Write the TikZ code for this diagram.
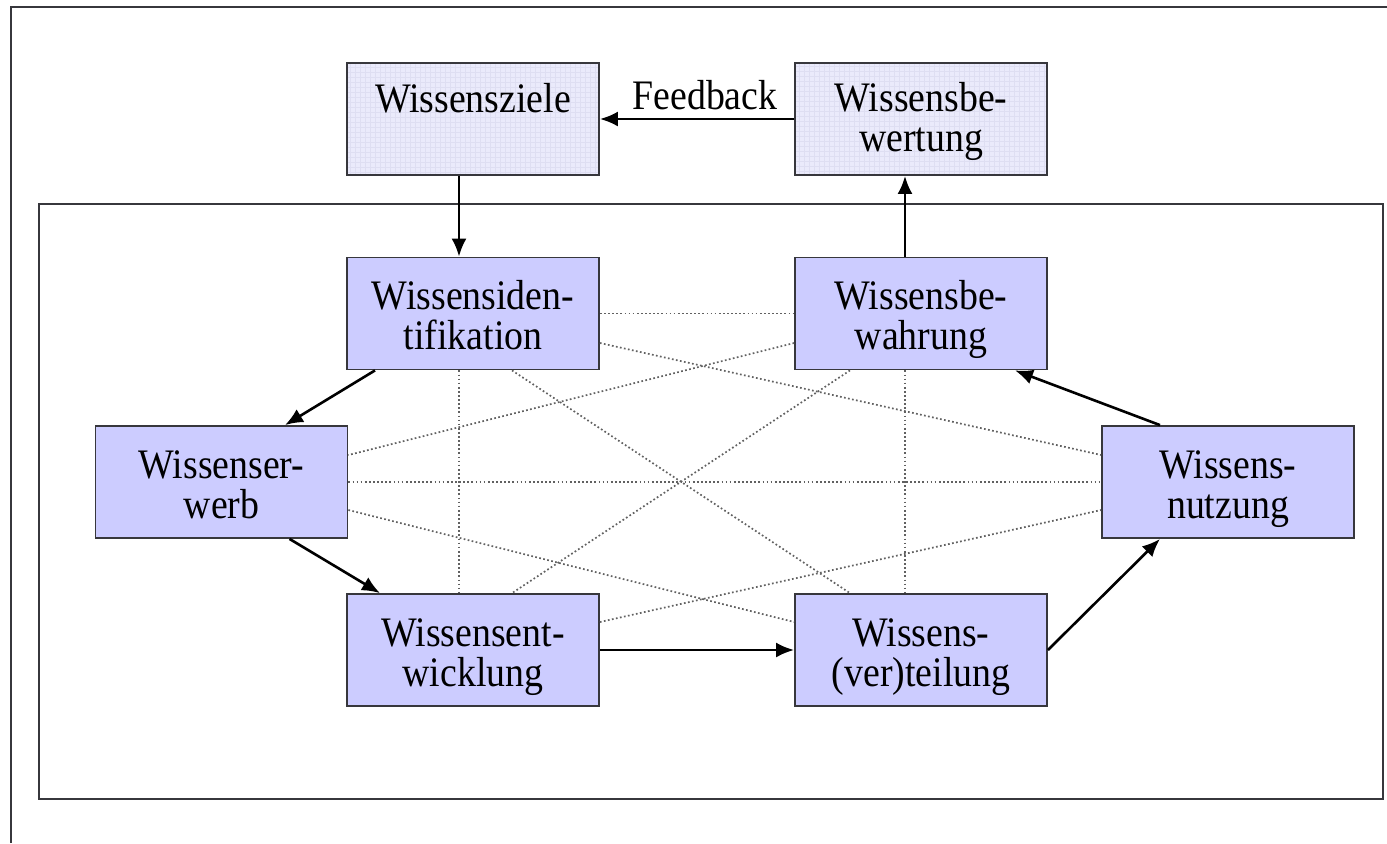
\documentclass[tikz,border=0pt]{standalone}
\usepackage{fontspec}
\setmainfont{Liberation Serif}[FakeStretch=0.9]
\usetikzlibrary{arrows.meta}

\definecolor{boxblue}{RGB}{204,204,255}
\definecolor{boxlight}{RGB}{234,234,251}
\definecolor{gridline}{RGB}{222,222,242}
\definecolor{framegray}{RGB}{55,55,60}

\def\boxw{126pt}
\def\boxh{56pt}

\begin{document}
\begin{tikzpicture}[x=0.5pt, y=-0.5pt,
    nodes = {font=\fontsize{21}{20}\selectfont},
    stage/.style = {draw=framegray, line width=0.9pt, fill=boxblue,
      align=center, minimum width=\boxw, minimum height=\boxh, inner sep=0pt,
      text height=40pt, text depth=4pt},
    goalbox/.style = {stage, fill=boxlight, path picture={
        \draw[gridline, line width=0.3pt]
          (path picture bounding box.south west) grid[step=2.5pt]
          (path picture bounding box.north east);}},
    flow/.style = {line width=1.3pt, -{Latex[length=9pt,width=7.5pt]}},
    link/.style = {black!62, line width=0.85pt, dash pattern=on 0.85pt off 1.2pt}]
  \useasboundingbox (0,0) rectangle (1387,843);

  % frames
  \draw[framegray, line width=0.8pt] (11,843) -- (11,7) -- (1387,7);
  \draw[framegray, line width=0.8pt] (39,204) rectangle (1383,799);

  % goals and evaluation
  \node[goalbox, text height=24pt, text depth=31pt] (ziele) at (473,119) {Wissensziele};
  \node[goalbox, text height=38pt, text depth=6pt] (bewertung) at (921,119) {Wissensbe-\\wertung};

  % building blocks
  \node[stage] (ident)     at (473,313.5) {Wissensiden-\\tifikation};
  \node[stage] (bewahrung) at (921,313.5) {Wissensbe-\\wahrung};
  \node[stage] (erwerb)    at (221.5,482) {Wissenser-\\werb};
  \node[stage] (nutzung)   at (1228,482)  {Wissens-\\nutzung};
  \node[stage] (entw)      at (473,650)   {Wissensent-\\wicklung};
  \node[stage] (vert)      at (921,650)   {Wissens-\\(ver)teilung};

  % end points of the dotted links
  \coordinate (i1) at ([yshift=-14.75pt]ident.east);
  \coordinate (i2) at ([xshift=-7pt]ident.south);
  \coordinate (i3) at ([xshift=19.5pt]ident.south);
  \coordinate (b1) at ([yshift=-14.75pt]bewahrung.west);
  \coordinate (b2) at ([xshift=-8pt]bewahrung.south);
  \coordinate (b3) at ([xshift=-35.5pt]bewahrung.south);
  \coordinate (e1) at ([yshift=13.5pt]erwerb.east);
  \coordinate (e2) at ([yshift=-14pt]erwerb.east);
  \coordinate (n1) at ([yshift=13.5pt]nutzung.west);
  \coordinate (n2) at ([yshift=-14pt]nutzung.west);
  \coordinate (w1) at ([yshift=14pt]entw.east);
  \coordinate (w2) at ([xshift=-7pt]entw.north);
  \coordinate (w3) at ([xshift=19.5pt]entw.north);
  \coordinate (v1) at ([yshift=14pt]vert.west);
  \coordinate (v2) at ([xshift=-8pt]vert.north);
  \coordinate (v3) at ([xshift=-35.5pt]vert.north);

  \draw[link] (ident.east) -- (bewahrung.west);
  \draw[link] (erwerb.east) -- (nutzung.west);
  \foreach \from/\to in {i1/n1, i2/w2, i3/v3, b1/e1, b2/v2, b3/w3, e2/v1, w1/n2}
    \draw[link] (\from) -- (\to);

  % knowledge cycle
  \draw[flow] (bewertung.west) -- node[above, inner sep=4pt, xshift=4pt] {Feedback} (ziele.east);
  \draw[flow] ([xshift=-7pt]ziele.south) -- ([xshift=-7pt]ident.north);
  \draw[flow] ([xshift=-49pt]ident.south) -- ([xshift=31.75pt]erwerb.north);
  \draw[flow] ([xshift=34pt]erwerb.south) -- ([xshift=-46.5pt]entw.north);
  \draw[flow] (entw.east) -- (vert.west);
  \draw[flow] (vert.east) -- ([xshift=-34pt]nutzung.south);
  \draw[flow] ([xshift=-34pt]nutzung.north) -- ([xshift=47pt]bewahrung.south);
  \draw[flow] ([xshift=-8pt]bewahrung.north) -- ([xshift=-8pt]bewertung.south);
\end{tikzpicture}
\end{document}
